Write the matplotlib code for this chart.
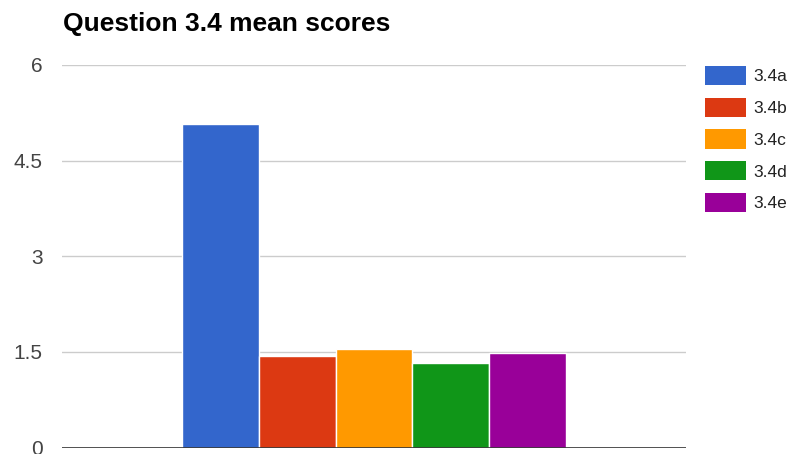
import numpy as np
import matplotlib
matplotlib.use('Agg')
from matplotlib import pyplot as plt

# mean scores per sub-question
labels = ['3.4a', '3.4b', '3.4c', '3.4d', '3.4e']
scores = [5.08, 1.44, 1.54, 1.33, 1.49]
colors = ['#3366cc', '#dc3912', '#ff9900', '#109618', '#990099']
yticks = [0, 1.5, 3, 4.5, 6]
ytick_labels = ['0', '1.5', '3', '4.5', '6']

plt.rcParams['font.family'] = ['Liberation Sans', 'DejaVu Sans']

W, H = 798, 454
fig = plt.figure(figsize=(W / 100, H / 100), dpi=100)
ax = fig.add_axes([62 / W, 1 - 447.5 / H, 624 / W, (447.5 - 65) / H])

# one group of bars, centred in the plot
group_w = 0.614
bar_w = group_w / len(scores)
xs = (np.arange(len(scores)) - (len(scores) - 1) / 2) * bar_w
for x, s, c, lab in zip(xs, scores, colors, labels):
	ax.bar(x, s, width=bar_w, color=c, edgecolor='white', linewidth=1, label=lab, zorder=2)

ax.set_xlim(-0.5, 0.5)
ax.set_ylim(0, 6)
ax.set_xticks([])
ax.set_yticks(yticks)
ax.set_yticklabels(ytick_labels)
ax.tick_params(axis='y', length=0, pad=14, labelsize=15, labelcolor='#444444')
for y in yticks[1:]:
	ax.axhline(y, color='#cccccc', linewidth=1, zorder=1)
ax.axhline(0, color='#333333', linewidth=1.2, zorder=3)
for sp in ax.spines.values():
	sp.set_visible(False)

fig.text(63 / W, 1 - 31 / H, 'Question 3.4 mean scores', fontsize=19, fontweight='bold',
		 color='#000000', ha='left', va='baseline')

leg = fig.legend(loc='upper left', bbox_to_anchor=(705 / W, 1 - 66 / H), frameon=False,
				 borderpad=0, borderaxespad=0, fontsize=12.5, handlelength=2.35, handleheight=1.34,
				 handletextpad=0.45, labelspacing=0.71)
for t in leg.get_texts():
	t.set_color('#222222')
for h in leg.legend_handles:
	h.set_edgecolor('none')

fig.savefig('out.png', dpi=100)
